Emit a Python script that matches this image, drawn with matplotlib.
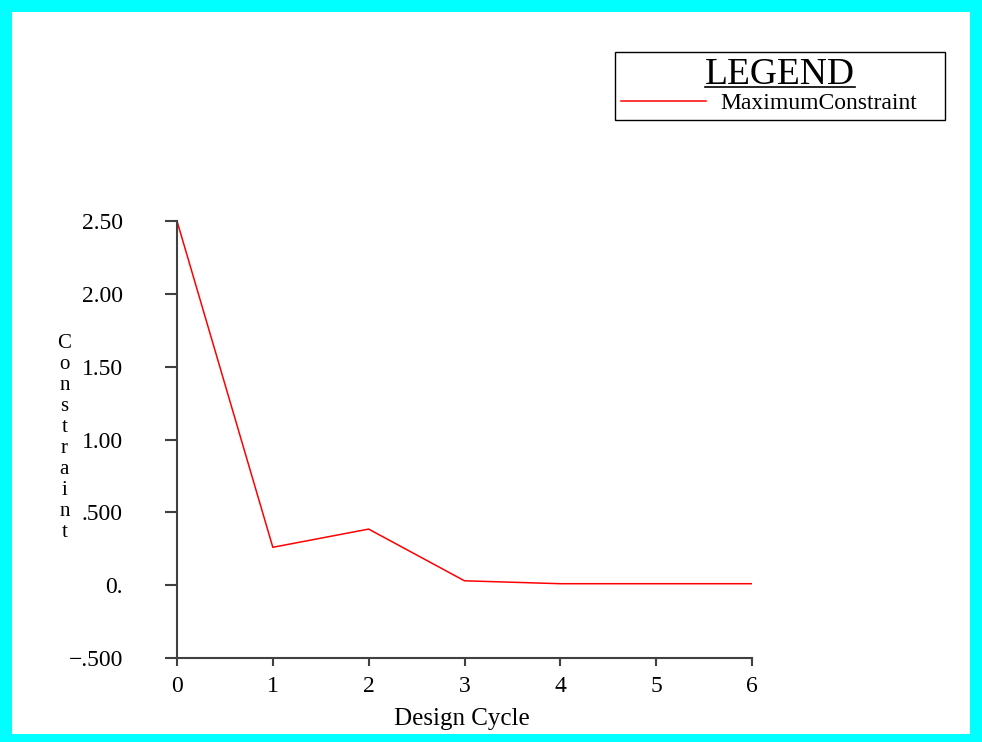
import matplotlib
matplotlib.use("Agg")
import matplotlib.pyplot as plt
from matplotlib.patches import Rectangle
from matplotlib.lines import Line2D
from matplotlib.font_manager import FontProperties

# values
cycles = [0, 1, 2, 3, 4, 5, 6]
max_constraint = [2.50, 0.26, 0.385, 0.03, 0.01, 0.01, 0.01]
ytick_vals = [-0.5, 0.0, 0.5, 1.0, 1.5, 2.0, 2.5]
ytick_labels = ["\u2212.500", "0.", ".500", "1.00", "1.50", "2.00", "2.50"]

W, H = 982, 742
serif = "Liberation Serif"
axcol = "#404040"

fig = plt.figure(figsize=(W / 100, H / 100), dpi=100, facecolor="#00ffff")
# white inner page inside the cyan frame
fig.patches.append(Rectangle((12 / W, 8 / H), (970 - 12) / W, (730 - 8) / H,
                             transform=fig.transFigure, facecolor="white",
                             edgecolor="none", zorder=-10))

ax = fig.add_axes([177 / W, (H - 658) / H, 575 / W, 437 / H])
ax.set_facecolor("none")
line, = ax.plot(cycles, max_constraint, color="#ff0000", lw=1.1)

ax.set_xlim(0, 6)
ax.set_ylim(-0.5, 2.5)
ax.set_xticks(cycles)
ax.set_xticklabels([str(c) for c in cycles], fontfamily=serif, fontsize=17)
ax.set_yticks(ytick_vals)
ax.set_yticklabels(ytick_labels, fontfamily=serif, fontsize=17)

for s in ["top", "right"]:
    ax.spines[s].set_visible(False)
for s in ["left", "bottom"]:
    ax.spines[s].set_color(axcol)
    ax.spines[s].set_linewidth(1.5)
ax.tick_params(axis="y", length=9, width=1.5, color=axcol, pad=30)
ax.tick_params(axis="x", length=6, width=1.5, color=axcol, pad=7)

ax.set_xlabel("Design Cycle", fontfamily=serif, fontsize=18)
ax.xaxis.set_label_coords(0.496, -0.114)
ax.set_ylabel("\n".join("Constraint"), fontfamily=serif, fontsize=15,
              rotation=0, linespacing=1.14, va="center", ha="center")
ax.yaxis.set_label_coords(-0.196, 0.503)

leg = ax.legend([line], ["MaximumConstraint"], loc="upper left",
                bbox_to_anchor=(615 / W, 1 - 120 / H, 330 / W, 68 / H),
                bbox_transform=fig.transFigure, mode="expand",
                title="LEGEND",
                title_fontproperties=FontProperties(family=serif, size=27),
                prop=FontProperties(family=serif, size=17),
                frameon=True, fancybox=False, edgecolor="black", framealpha=1,
                borderpad=0.25, borderaxespad=0, handlelength=3.6,
                handletextpad=0.6, labelspacing=0.0)
leg.get_frame().set_linewidth(1.0)

# underline the legend title
fig.canvas.draw()
bb = leg.get_title().get_window_extent().transformed(fig.transFigure.inverted())
fig.add_artist(Line2D([bb.x0, bb.x1], [bb.y0 + 0.007, bb.y0 + 0.007],
                      transform=fig.transFigure, color="black", lw=1.2))

fig.savefig("out.png", dpi=100, facecolor=fig.get_facecolor())
